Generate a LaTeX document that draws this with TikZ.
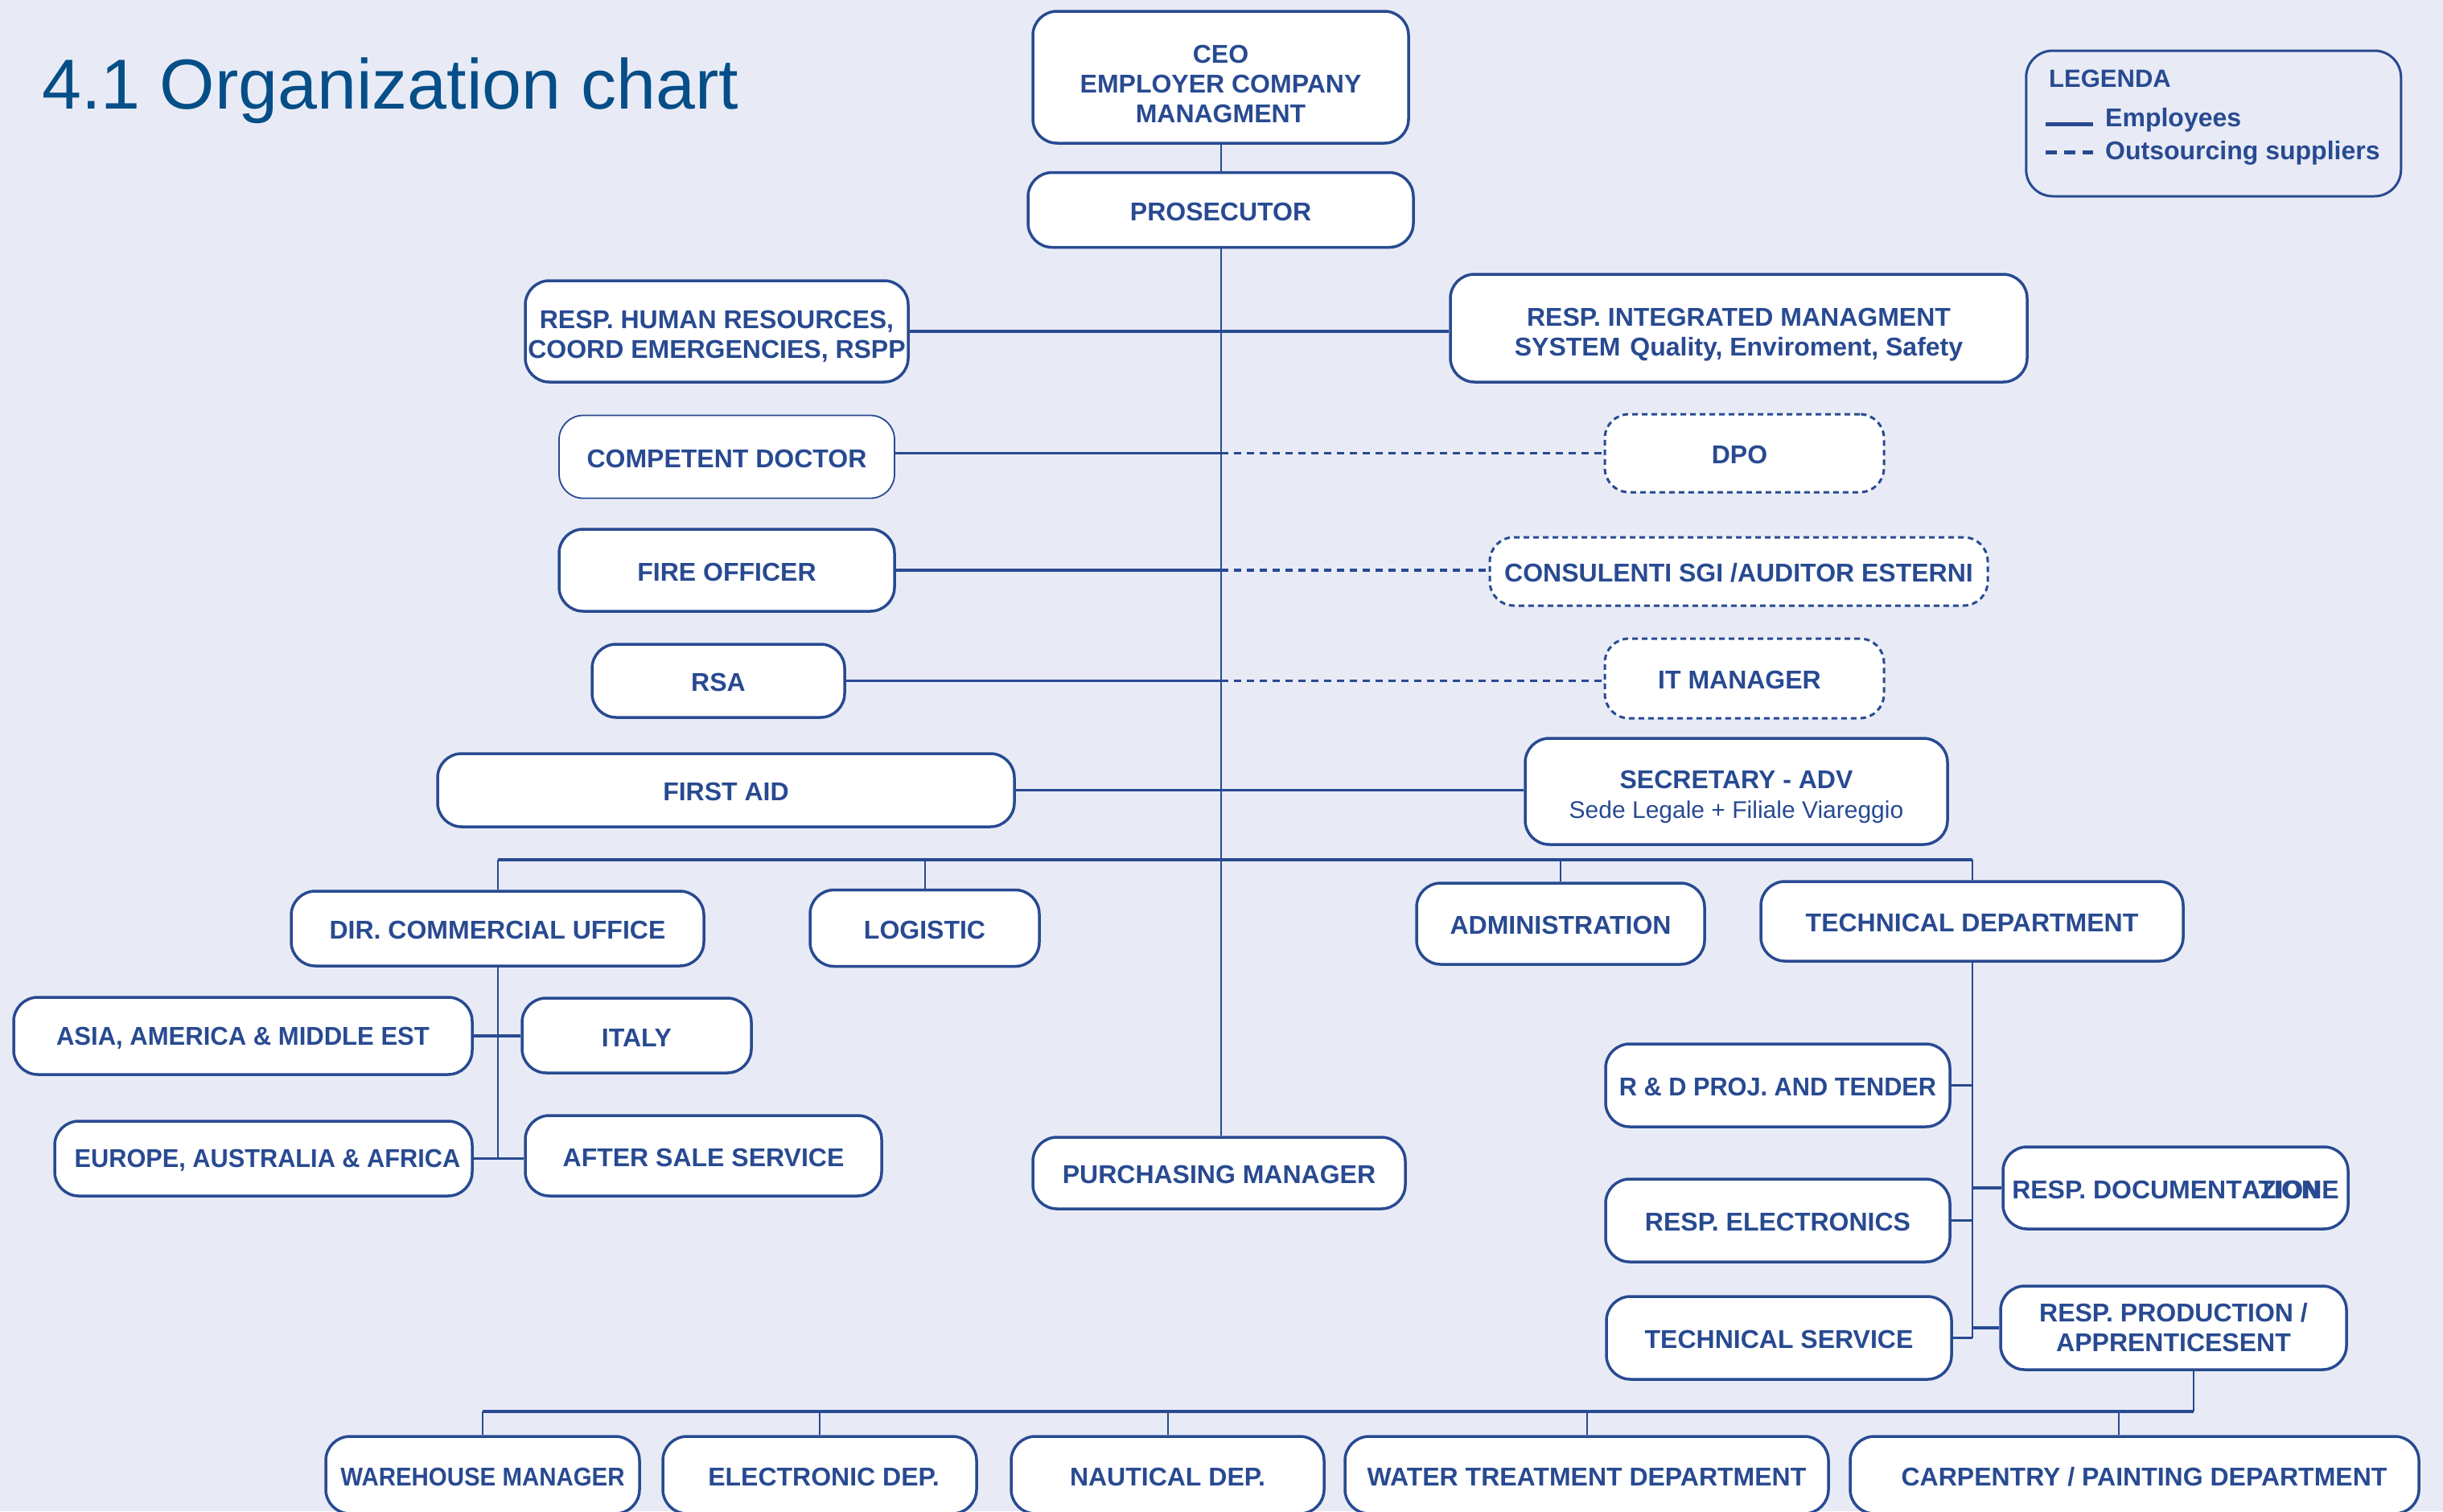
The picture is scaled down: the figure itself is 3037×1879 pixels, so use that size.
\documentclass[tikz,border=0pt]{standalone}
\usepackage{fontspec}
\setmainfont{Liberation Sans}
\definecolor{bg}{RGB}{232,235,246}
\definecolor{ink}{RGB}{40,74,145}
\definecolor{titleblue}{RGB}{6,78,135}
\newcommand\hsq[2]{\scalebox{#1}[1]{#2}}
\newcommand\lift[1]{\rule{0pt}{#1}}
\tikzset{
  box/.style={draw=ink, fill=white, line width=3.5pt, rounded corners=30pt, inner sep=0pt,
    text=ink, align=center, font=\bfseries\fontsize{32}{37}\selectfont,
    execute at begin node={\rule{0pt}{27pt}}},
  boxm/.style={box, execute at begin node={}},
  thinbox/.style={box, line width=1.8pt},
  dashbox/.style={box, line width=3pt, dash pattern=on 7pt off 5pt},
  conn/.style={draw=ink, line width=3.5pt},
  thinconn/.style={draw=ink, line width=2pt},
  dashconn/.style={draw=ink, line width=3.5pt, dash pattern=on 9pt off 7pt},
  bus/.style={draw=ink, line width=4.5pt},
  legtext/.style={anchor=west, inner sep=0pt, text=ink, font=\bfseries\fontsize{32}{37}\selectfont},
}
\begin{document}
\begin{tikzpicture}[x=1pt,y=-1pt]
\useasboundingbox (0,0) rectangle (3037,1879);
\fill[bg] (0,0) rectangle (3037,1879);
\begin{scope}
\clip (0,0) rectangle (3037,1879);

% title
\node[anchor=base west, inner sep=0pt, text=titleblue, font=\fontsize{88}{100}\selectfont] (title) at (52,135) {4.1 Organization chart};

% legend
\node[draw=ink, line width=3pt, rounded corners=33pt, minimum width=466pt, minimum height=181pt, inner sep=0pt] (legend) at (2751.75,153.5) {};
\node[legtext, font=\bfseries\fontsize{31}{36}\selectfont] (legtitle) at (2547,98) {LEGENDA};
\coordinate (le1) at (2543,154);
\coordinate (le2) at (2602,154);
\coordinate (lo1) at (2543,189);
\coordinate (lo2) at (2602,189);
\draw[ink, line width=5pt] (le1) -- (le2);
\draw[ink, line width=5pt, dash pattern=on 14pt off 9pt] (lo1) -- (lo2);
\node[legtext] (legemp) at (2617,149) {Employees};
\node[legtext] (legout) at (2617,190) {Outsourcing suppliers};

% top nodes
\node[boxm, minimum width=467pt, minimum height=164pt] (ceo) at (1517.5,96) {\lift{39pt}CEO\\EMPLOYER COMPANY\\MANAGMENT};
\node[box, minimum width=479pt, minimum height=93pt] (pros) at (1517.5,261) {PROSECUTOR};
\node[boxm, minimum width=476pt, minimum height=126pt] (hr) at (891,412) {\lift{35pt}RESP. HUMAN RESOURCES,\\COORD EMERGENCIES, RSPP};
\node[boxm, minimum width=717pt, minimum height=134pt] (ims) at (2161.5,408) {\lift{39pt}RESP. INTEGRATED MANAGMENT\\SYSTEM\hspace{12pt}Quality, Enviroment, Safety};
\node[thinbox, minimum width=417pt, minimum height=103pt] (doc) at (903.5,568) {COMPETENT DOCTOR};
\node[dashbox, minimum width=347pt, minimum height=97pt] (dpo) at (2168.5,563.5) {DPO\hspace{12pt}};
\node[box, minimum width=417pt, minimum height=102pt] (fire) at (903.5,709) {FIRE OFFICER};
\node[dashbox, minimum width=619pt, minimum height=85pt] (cons) at (2161.5,710.5) {CONSULENTI SGI /AUDITOR ESTERNI};
\node[box, minimum width=314pt, minimum height=91pt] (rsa) at (893,846.5) {RSA};
\node[dashbox, minimum width=347pt, minimum height=99pt] (itm) at (2168.5,843.5) {IT MANAGER\hspace{12pt}};
\node[box, minimum width=717pt, minimum height=91pt] (fa) at (902.5,982.5) {FIRST AID};
\node[boxm, minimum width=525pt, minimum height=132pt] (sec) at (2158.5,984) {\lift{37pt}SECRETARY - ADV\\{\mdseries\fontsize{30}{36}\selectfont Sede Legale + Filiale Viareggio}};

% second tier
\node[box, minimum width=513pt, minimum height=93pt] (dco) at (618.5,1154.5) {DIR. COMMERCIAL UFFICE};
\node[box, minimum width=285pt, minimum height=95pt] (log) at (1149.5,1154) {LOGISTIC};
\node[box, minimum width=358pt, minimum height=101pt] (adm) at (1940,1148.5) {ADMINISTRATION};
\node[box, minimum width=525pt, minimum height=99pt] (td) at (2451.5,1145.5) {TECHNICAL DEPARTMENT};

\node[box, minimum width=570pt, minimum height=96pt] (asia) at (302,1288) {\hsq{0.97}{ASIA, AMERICA \& MIDDLE EST}};
\node[box, minimum width=285pt, minimum height=93pt] (italy) at (791.5,1287.5) {ITALY};
\node[box, minimum width=519pt, minimum height=93pt] (eur) at (327.5,1440.5) {\hspace{10pt}\hsq{0.96}{EUROPE, AUSTRALIA \& AFRICA}};
\node[box, minimum width=443pt, minimum height=100pt] (asv) at (874.5,1437) {AFTER SALE SERVICE};
\node[box, minimum width=463pt, minimum height=89pt] (pur) at (1515.5,1458.5) {PURCHASING MANAGER};

\node[box, minimum width=428pt, minimum height=103pt] (rnd) at (2210,1349.5) {\hsq{0.96}{R \& D PROJ. AND TENDER}};
\node[box, minimum width=429pt, minimum height=102pt] (rdoc) at (2704.5,1477) {RESP. DOCUMENT\rlap{ATION}AZIONE};
\node[box, minimum width=428pt, minimum height=103pt] (rel) at (2210,1517.5) {RESP. ELECTRONICS};
\node[box, minimum width=429pt, minimum height=103pt] (tsv) at (2211.5,1663.5) {TECHNICAL SERVICE};
\node[boxm, minimum width=430pt, minimum height=104pt] (rprod) at (2702,1651) {RESP. PRODUCTION /\\APPRENTICESENT};

% bottom row
\node[box, minimum width=390pt, minimum height=96pt] (wh) at (600,1834) {\hsq{0.92}{WAREHOUSE MANAGER}};
\node[box, minimum width=390pt, minimum height=96pt] (el) at (1019,1834) {\hspace{10pt}ELECTRONIC DEP.};
\node[box, minimum width=389pt, minimum height=96pt] (nau) at (1451.5,1834) {NAUTICAL DEP.};
\node[box, minimum width=601pt, minimum height=96pt] (wat) at (1972.5,1834) {WATER TREATMENT DEPARTMENT};
\node[box, minimum width=707pt, minimum height=96pt] (carp) at (2653.5,1834) {\hspace{24pt}CARPENTRY / PAINTING DEPARTMENT};

% connectors
\coordinate (bus1) at (0,1069);
\coordinate (bus2) at (0,1755);

\path[thinconn] (ceo.south) -- (pros.north);
\path[thinconn] (pros.south) -- (pros.south |- pur.north);

\path[conn] (hr.east) -- (hr.east -| ims.west);
\path[conn] (doc.east |- dpo.west) -- (dpo.west -| pros.south);
\path[dashconn] (dpo.west -| pros.south) -- (dpo.west);
\path[conn] (fire.east) -- (fire.east -| pros.south);
\path[dashconn] (fire.east -| pros.south) -- (fire.east -| cons.west);
\path[conn] (rsa.east) -- (rsa.east -| pros.south);
\path[dashconn] (rsa.east -| pros.south) -- (rsa.east -| itm.west);
\path[conn] (fa.east) -- (fa.east -| sec.west);

\path[bus] (dco.north |- bus1) -- (td.north |- bus1);
\path[thinconn] (dco.north) -- (dco.north |- bus1);
\path[thinconn] (log.north) -- (log.north |- bus1);
\path[thinconn] (adm.north) -- (adm.north |- bus1);
\path[thinconn] (td.north) -- (td.north |- bus1);

\path[thinconn] (dco.south) -- (dco.south |- eur.east);
\path[conn] (asia.east) -- (asia.east -| italy.west);
\path[conn] (eur.east) -- (eur.east -| asv.west);

\path[thinconn] (td.south) -- (td.south |- tsv.east);
\path[conn] (rnd.east) -- (rnd.east -| td.south);
\path[conn] (rel.east) -- (rel.east -| td.south);
\path[conn] (tsv.east) -- (tsv.east -| td.south);
\path[conn] (rdoc.west -| td.south) -- (rdoc.west);
\path[conn] (rprod.west -| td.south) -- (rprod.west);

\path[thinconn] ([xshift=25pt]rprod.south) -- ([xshift=25pt]rprod.south |- bus2);
\path[bus] (wh.north |- bus2) -- ([xshift=25pt]rprod.south |- bus2);
\path[thinconn] (wh.north) -- (wh.north |- bus2);
\path[thinconn] (el.north) -- (el.north |- bus2);
\path[thinconn] (nau.north) -- (nau.north |- bus2);
\path[thinconn] (wat.north) -- (wat.north |- bus2);
\path[thinconn] ([xshift=-20pt]carp.north) -- ([xshift=-20pt]carp.north |- bus2);
\end{scope}
\end{tikzpicture}
\end{document}
